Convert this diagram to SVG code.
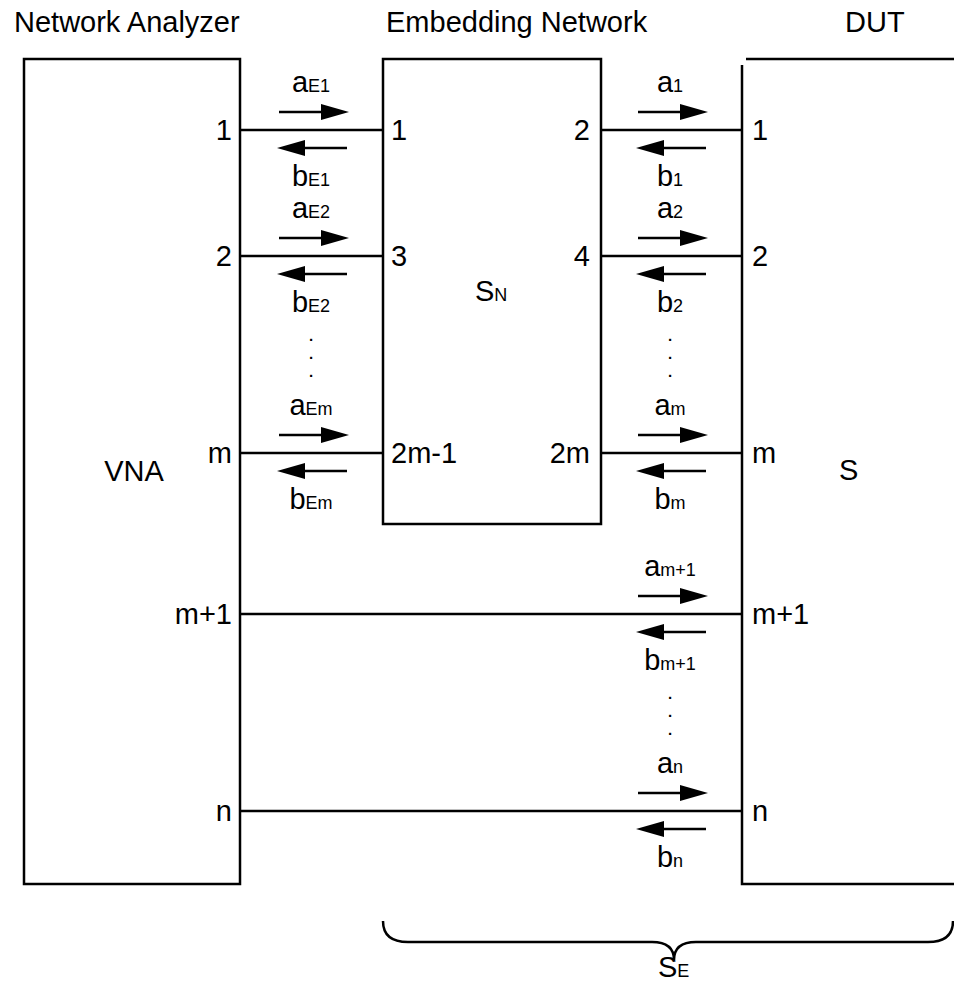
<svg xmlns="http://www.w3.org/2000/svg" xmlns:xlink="http://www.w3.org/1999/xlink" width="954" height="999" viewBox="0 0 954 999">
<style>
text{font-family:"Liberation Sans",Arial,sans-serif;font-size:29px;fill:#000}
.sub{font-size:18px}
.dot{font-size:15px;font-weight:bold;text-anchor:middle}
.box{fill:none;stroke:#000;stroke-width:2.5}
.wire{stroke:#000;stroke-width:2.5;fill:none}
.mid{text-anchor:middle}
.end{text-anchor:end}
</style>
<defs>
<g id="arrR"><line x1="0" y1="0" x2="46" y2="0" stroke="#000" stroke-width="2.5"/><polygon points="42,-8 70,0 42,8" fill="#000"/></g>
<g id="arrL"><line x1="24" y1="0" x2="70" y2="0" stroke="#000" stroke-width="2.5"/><polygon points="28,-8 0,0 28,8" fill="#000"/></g>
</defs>
<rect width="954" height="999" fill="#fff"/>

<g id="titles">
<text x="14" y="32">Network Analyzer</text>
<text x="386" y="32">Embedding Network</text>
<text x="845" y="32">DUT</text>
</g>

<g id="vna">
<rect class="box" x="24" y="59" width="216" height="825"/>
<text class="mid" x="134" y="481">VNA</text>
<text class="end" x="232" y="140">1</text>
<text class="end" x="232" y="266">2</text>
<text class="end" x="232" y="463">m</text>
<text class="end" x="232" y="624">m+1</text>
<text class="end" x="232" y="821">n</text>
</g>

<g id="embedding">
<rect class="box" x="383" y="59" width="218" height="465"/>
<text x="475" y="301">S<tspan class="sub">N</tspan></text>
<text x="391" y="140">1</text>
<text x="391" y="266">3</text>
<text x="391" y="463">2m-1</text>
<text class="end" x="590" y="140">2</text>
<text class="end" x="590" y="266">4</text>
<text class="end" x="590" y="463">2m</text>
</g>

<g id="dut">
<path class="wire" d="M746,59 H954"/>
<path class="wire" d="M742,65 V884 H954"/>
<text x="839" y="480">S</text>
<text x="752" y="140">1</text>
<text x="752" y="266">2</text>
<text x="752" y="463">m</text>
<text x="752" y="624">m+1</text>
<text x="752" y="821">n</text>
</g>

<g id="connectors">
<path class="wire" d="M240,130 H383 M240,256 H383 M240,453 H383 M601,130 H742 M601,256 H742 M601,453 H742 M240,614 H742 M240,811 H742"/>
<use xlink:href="#arrR" x="279" y="112"/>
<use xlink:href="#arrL" x="277" y="148"/>
<use xlink:href="#arrR" x="279" y="238"/>
<use xlink:href="#arrL" x="277" y="274"/>
<use xlink:href="#arrR" x="279" y="435"/>
<use xlink:href="#arrL" x="277" y="471"/>
<use xlink:href="#arrR" x="638" y="112"/>
<use xlink:href="#arrL" x="636" y="148"/>
<use xlink:href="#arrR" x="638" y="238"/>
<use xlink:href="#arrL" x="636" y="274"/>
<use xlink:href="#arrR" x="638" y="435"/>
<use xlink:href="#arrL" x="636" y="471"/>
<use xlink:href="#arrR" x="638" y="596"/>
<use xlink:href="#arrL" x="636" y="632"/>
<use xlink:href="#arrR" x="638" y="793"/>
<use xlink:href="#arrL" x="636" y="829"/>
</g>

<g id="wave-labels">
<text class="mid" x="311" y="92">a<tspan class="sub">E1</tspan></text>
<text class="mid" x="311" y="186">b<tspan class="sub">E1</tspan></text>
<text class="mid" x="311" y="218">a<tspan class="sub">E2</tspan></text>
<text class="mid" x="311" y="312">b<tspan class="sub">E2</tspan></text>
<text class="mid" x="311" y="415">a<tspan class="sub">Em</tspan></text>
<text class="mid" x="311" y="509">b<tspan class="sub">Em</tspan></text>
<text class="mid" x="670" y="92">a<tspan class="sub">1</tspan></text>
<text class="mid" x="670" y="186">b<tspan class="sub">1</tspan></text>
<text class="mid" x="670" y="218">a<tspan class="sub">2</tspan></text>
<text class="mid" x="670" y="312">b<tspan class="sub">2</tspan></text>
<text class="mid" x="670" y="415">a<tspan class="sub">m</tspan></text>
<text class="mid" x="670" y="509">b<tspan class="sub">m</tspan></text>
<text class="mid" x="670" y="576">a<tspan class="sub">m+1</tspan></text>
<text class="mid" x="670" y="670">b<tspan class="sub">m+1</tspan></text>
<text class="mid" x="670" y="773">a<tspan class="sub">n</tspan></text>
<text class="mid" x="670" y="867">b<tspan class="sub">n</tspan></text>
<text class="dot" x="311" y="341">.</text>
<text class="dot" x="311" y="359">.</text>
<text class="dot" x="311" y="377">.</text>
<text class="dot" x="670" y="341">.</text>
<text class="dot" x="670" y="359">.</text>
<text class="dot" x="670" y="377">.</text>
<text class="dot" x="670" y="699">.</text>
<text class="dot" x="670" y="717">.</text>
<text class="dot" x="670" y="735">.</text>
</g>

<g id="brace">
<path class="wire" d="M383,921 C383,935 392,942 408,942 H652 C666,942 674,948 674,960 C674,948 682,942 696,942 H928 C944,942 953,935 953,921"/>
<text x="658" y="977">S<tspan class="sub">E</tspan></text>
</g>
</svg>
